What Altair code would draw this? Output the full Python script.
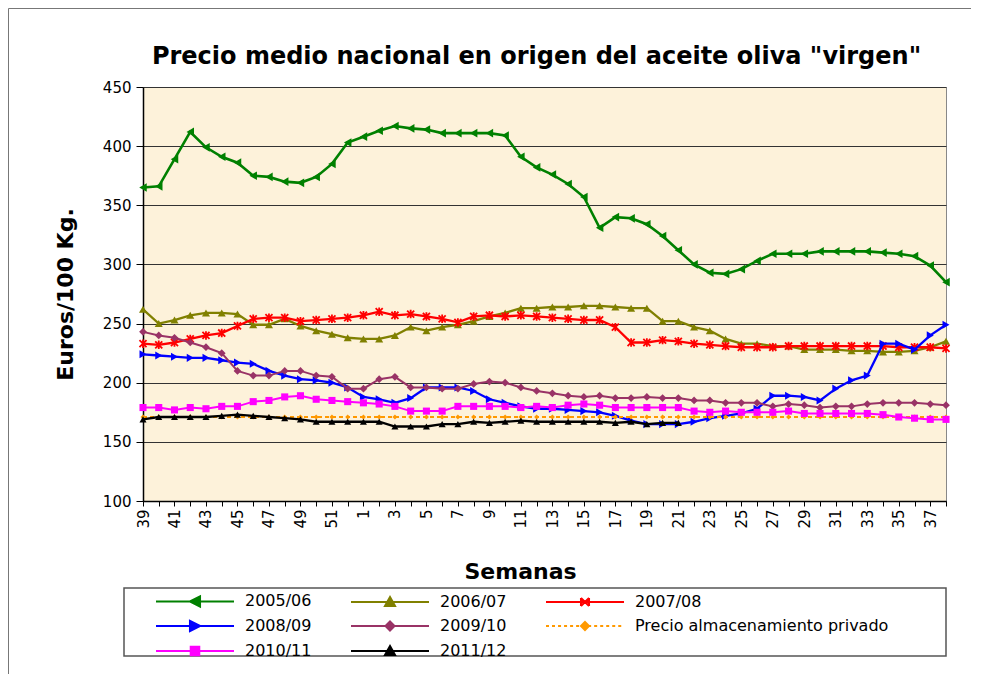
import json
import altair as alt
import pandas as pd

# ---------------- data ----------------
weeks = [str(w) for w in list(range(39, 53)) + list(range(1, 39))]

series_names = ["2005/06", "2006/07", "2007/08", "2008/09", "2009/10",
                "Precio almacenamiento privado", "2010/11", "2011/12"]

s0506 = [365, 366, 389, 412, 399, 391, 386, 375, 374, 370, 369, 374, 385, 403,
         408, 413, 417, 415, 414, 411, 411, 411, 411, 409, 391, 382,
         376, 368, 357, 331, 340, 339, 334, 324, 312, 300, 293, 292, 296, 303,
         309, 309, 309, 311, 311, 311, 311, 310, 309, 307, 299, 285]
s0607 = [262, 250, 253, 257, 259, 259, 258, 249, 249, 254, 248, 244, 241, 238,
         237, 237, 240, 247, 244, 247, 249, 252, 256, 259, 263, 263,
         264, 264, 265, 265, 264, 263, 263, 252, 252, 247, 244, 237, 233, 233,
         231, 231, 228, 228, 228, 227, 227, 226, 226, 227, 230, 235]
s0708 = [233, 232, 234, 237, 240, 242, 248, 254, 255, 255, 252, 253, 254, 255,
         257, 260, 257, 258, 256, 254, 251, 256, 257, 256, 257, 256,
         255, 254, 253, 253, 247, 234, 234, 236, 235, 233, 232, 231, 230, 230,
         230, 231, 231, 231, 231, 231, 231, 231, 230, 230, 230, 229]
s0809 = [224, 223, 222, 221, 221, 219, 217, 216, 210, 206, 203, 202, 200, 196,
         188, 186, 183, 187, 196, 196, 196, 193, 186, 183, 180, 178,
         178, 177, 176, 175, 172, 168, 165, 165, 165, 167, 170, 172, 174, 178,
         189, 189, 188, 185, 195, 202, 206, 233, 233, 228, 240, 249]
s0910 = [243, 240, 238, 234, 230, 225, 210, 206, 206, 210, 210, 206, 205, 195,
         195, 203, 205, 196, 196, 195, 195, 199, 201, 200, 196, 193,
         191, 189, 188, 189, 187, 187, 188, 187, 187, 185, 185, 183, 183, 183,
         180, 182, 181, 179, 180, 180, 182, 183, 183, 183, 182, 181]
s_precio = [171] * 52
s1011 = [179, 179, 177, 179, 178, 180, 180, 184, 185, 188, 189, 186, 185, 184,
         183, 182, 180, 176, 176, 176, 180, 180, 180, 180, 179, 180,
         179, 181, 182, 181, 179, 179, 179, 179, 179, 176, 175, 176, 175, 175,
         175, 176, 174, 174, 174, 174, 174, 173, 171, 170, 169, 169]
s1112 = [169, 171, 171, 171, 171, 172, 173, 172, 171, 170, 169, 167, 167, 167,
         167, 167, 163, 163, 163, 165, 165, 167, 166, 167, 168, 167,
         167, 167, 167, 167, 166, 167, 165, 166, 166] + [None] * 17

series_values = [s0506, s0607, s0708, s0809, s0910, s_precio, s1011, s1112]

y_ticks = [100, 150, 200, 250, 300, 350, 400, 450]

# ---------------- styles ----------------
colors = ["#008000", "#808000", "#FF0000", "#0000FF", "#993366", "#FF9900", "#FF00FF", "#000000"]
FONT = "DejaVu Sans"

STAR = "M-1,-1L1,1M-1,1L1,-1M0,-1.2L0,1.2"
plot_markers = [
    dict(shape="triangle-left", filled=True, size=75),
    dict(shape="triangle-up", filled=True, size=65),
    dict(shape=STAR, filled=False, size=50, strokeWidth=1.8),
    dict(shape="triangle-right", filled=True, size=65),
    dict(shape="diamond", filled=True, size=60),
    dict(shape="diamond", filled=True, size=25),
    dict(shape="square", filled=True, size=50),
    dict(shape="triangle-up", filled=True, size=50),
]
line_styles = [
    dict(strokeWidth=2.6),
    dict(strokeWidth=2.3),
    dict(strokeWidth=2.3),
    dict(strokeWidth=2.3),
    dict(strokeWidth=2.0),
    dict(strokeWidth=2.0, strokeDash=[4, 3]),
    dict(strokeWidth=2.0),
    dict(strokeWidth=2.3),
]

# legend symbol paths (unit = 7px for symbolSize 196)
L0, L1, MC, H = 2.714, 13.857, 8.286, 0.72


def f(v):
    return f"{v:.3f}".rstrip("0").rstrip(".")


def seg_line():
    return f"M{f(L0)},0L{f(L1)},0"


def dotted_line():
    out, x = "", L0
    while x < L1:
        out += f"M{f(x)},0L{f(min(x + 0.43, L1))},0"
        x += 0.86
    return out


def nested(fn):
    return "".join(fn(k) for k in (1.0, 0.62, 0.28))


def tri_left(k):
    h = H * k
    return f"M{f(MC - h)},0L{f(MC + h)},{f(-h)}L{f(MC + h)},{f(h)}Z"


def tri_right(k):
    h = H * k
    return f"M{f(MC + h)},0L{f(MC - h)},{f(-h)}L{f(MC - h)},{f(h)}Z"


def tri_up(k):
    h = H * k
    return f"M{f(MC)},{f(-h)}L{f(MC + h)},{f(0.8 * h)}L{f(MC - h)},{f(0.8 * h)}Z"


def diamond(k, s=1.0):
    h = H * k * s
    return f"M{f(MC)},{f(-h)}L{f(MC + h)},0L{f(MC)},{f(h)}L{f(MC - h)},0Z"


def square(k):
    h = H * k * 0.85
    return f"M{f(MC - h)},{f(-h)}L{f(MC + h)},{f(-h)}L{f(MC + h)},{f(h)}L{f(MC - h)},{f(h)}Z"


def star():
    h = H * 0.8
    return (f"M{f(MC - h)},{f(-h)}L{f(MC + h)},{f(h)}M{f(MC - h)},{f(h)}L{f(MC + h)},{f(-h)}"
            f"M{f(MC - h)},{f(-h)}L{f(MC - h)},{f(h)}M{f(MC + h)},{f(-h)}L{f(MC + h)},{f(h)}")


legend_paths = [
    seg_line() + nested(tri_left),
    seg_line() + nested(tri_up),
    seg_line() + star(),
    seg_line() + nested(tri_right),
    seg_line() + nested(lambda k: diamond(k, 0.9)),
    dotted_line() + nested(lambda k: diamond(k, 0.8)),
    seg_line() + nested(square),
    seg_line() + nested(tri_up),
]

# ---------------- table ----------------
rows = []
for name, vals in zip(series_names, series_values):
    for i, v in enumerate(vals):
        if v is not None:
            rows.append({"i": i, "week": weeks[i], "series": name, "value": v})
df = pd.DataFrame(rows)

x_labels = [weeks[i] if i % 2 == 0 else "" for i in range(len(weeks))]

x_enc = alt.X(
    "i:Q",
    scale=alt.Scale(domain=[0, len(weeks) - 1], nice=False, zero=False),
    axis=alt.Axis(
        values=list(range(len(weeks))),
        labelExpr=json.dumps(x_labels) + "[datum.value]",
        labelAngle=270, labelFont=FONT, labelFontSize=15, labelColor="#000",
        labelPadding=3, labelOverlap=False, labelFlush=False,
        tickSize=5, tickColor="#000", tickWidth=1,
        domainColor="#000", domainWidth=1.5, grid=False,
        title="Semanas", titleFont=FONT, titleFontSize=22, titleFontWeight="bold",
        titleColor="#000", titleX=377, titleY=77, titleBaseline="alphabetic",
        titleAlign="center",
    ),
)
y_enc = alt.Y(
    "value:Q",
    scale=alt.Scale(domain=[100, 450], nice=False, zero=False),
    axis=alt.Axis(
        values=y_ticks, labelFont=FONT, labelFontSize=15, labelColor="#000",
        labelPadding=5, labelFlush=False,
        tickSize=7, tickColor="#000", tickWidth=1,
        domainColor="#000", domainWidth=1.5,
        grid=True, gridColor="#333", gridWidth=1.2,
        title="Euros/100 Kg.", titleFont=FONT, titleFontSize=22, titleFontWeight="bold",
        titleColor="#000", titleX=-66, titleY=207, titleAngle=270,
        titleBaseline="bottom", titleAlign="center",
    ),
)

base = alt.Chart(df)
layers = []

frame_df = pd.DataFrame({"d": [0]})
layers.append(
    alt.Chart(frame_df).mark_rect(fill="transparent", stroke="#777", strokeWidth=1).encode(
        x=alt.value(-134.5), x2=alt.value(900), y=alt.value(-78.5), y2=alt.value(700)
    )
)

for name, col, mk, ls in zip(series_names, colors, plot_markers, line_styles):
    sub = base.transform_filter(alt.datum.series == name)
    layers.append(sub.mark_line(color=col, **ls).encode(x=x_enc, y=y_enc))
    layers.append(sub.mark_point(color=col, opacity=1, **mk).encode(x=x_enc, y=y_enc))

legend_props = dict(
    orient="none", legendX=-19, legendY=501, direction="horizontal", columns=3,
    title=None, symbolSize=196, symbolStrokeWidth=2, symbolOpacity=1,
    labelFont=FONT, labelFontSize=16, labelColor="#000", labelOffset=100,
    labelLimit=500, columnPadding=12, rowPadding=5, padding=5,
)

layers.append(
    base.mark_point(filled=False, opacity=0, size=1).encode(
        x=x_enc, y=y_enc,
        color=alt.Color("series:N", scale=alt.Scale(domain=series_names, range=colors),
                        legend=alt.Legend(**legend_props)),
        shape=alt.Shape("series:N", scale=alt.Scale(domain=series_names, range=legend_paths),
                        legend=alt.Legend(**legend_props)),
    )
)

layers.append(
    alt.Chart(frame_df).mark_rect(fill="transparent", stroke="#555", strokeWidth=1.5).encode(
        x=alt.value(-19), x2=alt.value(803), y=alt.value(501), y2=alt.value(569)
    )
)

chart = alt.layer(*layers).properties(
    width=803, height=414,
    title=alt.TitleParams(
        'Precio medio nacional en origen del aceite oliva "virgen"',
        font=FONT, fontSize=24, fontWeight="bold", color="#000",
        anchor="middle", dx=-8, offset=-80, baseline="alphabetic",
    ),
    autosize=alt.AutoSizeParams(type="none"),
    padding={"left": 135, "top": 79, "right": 25, "bottom": 173},
    background="white",
).configure_view(fill="#FDF2DA", stroke="#888", strokeWidth=1)

chart.save("out.html", embed_options={"renderer": "svg", "actions": False})
